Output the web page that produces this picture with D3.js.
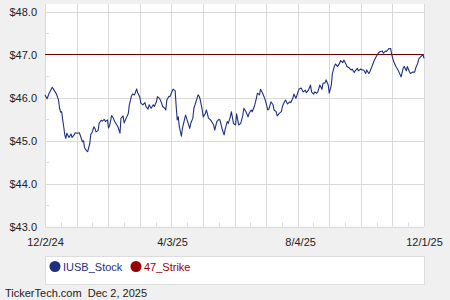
<!DOCTYPE html>
<html>
<head>
<meta charset="utf-8">
<script src="https://cdn.jsdelivr.net/npm/d3@7"></script>
<style>
    body { margin: 0; background: #f0f0f0; }
    svg { display: block; font-family: Arial, "Liberation Sans", sans-serif; }
</style>
</head>
<body>
<div id="chart"></div>
<script>
// closing prices, one entry per vertex of the line
const tradeDates = [
    "12/2/24","12/4/24","12/6/24","12/9/24","12/11/24","12/13/24","12/15/24","12/16/24","12/17/24","12/18/24",
    "12/19/24","12/20/24","12/21/24","12/22/24","12/23/24","12/25/24","12/27/24","12/28/24","12/30/24","12/31/24",
    "1/2/25","1/4/25","1/5/25","1/7/25","1/8/25","1/9/25","1/11/25","1/12/25","1/14/25","1/15/25",
    "1/16/25","1/18/25","1/19/25","1/20/25","1/22/25","1/23/25","1/25/25","1/26/25","1/28/25","1/29/25",
    "1/31/25","2/1/25","2/2/25","2/4/25","2/5/25","2/7/25","2/8/25","2/10/25","2/12/25","2/13/25",
    "2/15/25","2/16/25","2/18/25","2/20/25","2/21/25","2/23/25","2/24/25","2/26/25","2/28/25","3/1/25",
    "3/3/25","3/4/25","3/6/25","3/8/25","3/9/25","3/11/25","3/12/25","3/14/25","3/16/25","3/17/25",
    "3/19/25","3/20/25","3/22/25","3/24/25","3/25/25","3/27/25","3/28/25","3/29/25","3/31/25","4/1/25",
    "4/3/25","4/4/25","4/6/25","4/7/25","4/8/25","4/9/25","4/10/25","4/12/25","4/13/25","4/15/25",
    "4/16/25","4/18/25","4/20/25","4/21/25","4/23/25","4/24/25","4/26/25","4/28/25","4/29/25","4/30/25",
    "5/2/25","5/3/25","5/5/25","5/6/25","5/8/25","5/10/25","5/11/25","5/13/25","5/14/25","5/16/25",
    "5/18/25","5/19/25","5/21/25","5/23/25","5/24/25","5/26/25","5/27/25","5/29/25","5/30/25","6/1/25",
    "6/3/25","6/4/25","6/6/25","6/8/25","6/10/25","6/11/25","6/13/25","6/15/25","6/16/25","6/18/25",
    "6/19/25","6/21/25","6/23/25","6/24/25","6/26/25","6/27/25","6/29/25","7/1/25","7/2/25","7/4/25",
    "7/5/25","7/7/25","7/9/25","7/10/25","7/12/25","7/13/25","7/15/25","7/17/25","7/18/25","7/20/25",
    "7/21/25","7/23/25","7/25/25","7/26/25","7/28/25","7/29/25","7/31/25","8/2/25","8/3/25","8/5/25",
    "8/7/25","8/9/25","8/10/25","8/12/25","8/14/25","8/15/25","8/17/25","8/18/25","8/20/25","8/21/25",
    "8/23/25","8/25/25","8/26/25","8/28/25","8/29/25","8/31/25","9/1/25","9/3/25","9/4/25","9/6/25",
    "9/7/25","9/9/25","9/11/25","9/12/25","9/14/25","9/15/25","9/17/25","9/18/25","9/20/25","9/22/25",
    "9/23/25","9/25/25","9/26/25","9/28/25","9/29/25","10/1/25","10/3/25","10/4/25","10/6/25","10/7/25",
    "10/9/25","10/10/25","10/12/25","10/14/25","10/15/25","10/17/25","10/18/25","10/20/25","10/22/25","10/23/25",
    "10/25/25","10/26/25","10/28/25","10/30/25","10/31/25","11/1/25","11/2/25","11/4/25","11/6/25","11/7/25",
    "11/9/25","11/11/25","11/12/25","11/14/25","11/15/25","11/17/25","11/18/25","11/20/25","11/22/25","11/23/25",
    "11/25/25","11/26/25","11/28/25","11/30/25","12/1/25"
];

const closePrices = [
    46.06,45.97,46.10,46.24,46.16,46.08,45.94,45.75,45.66,45.67,
    45.48,45.32,45.13,45.05,45.17,45.07,45.15,45.07,45.13,45.18,
    45.17,45.18,45.11,44.97,44.99,44.83,44.76,44.74,44.93,45.15,
    45.17,45.32,45.28,45.20,45.23,45.40,45.47,45.45,45.49,45.44,
    45.48,45.29,45.34,45.58,45.55,45.44,45.40,45.32,45.17,45.52,
    45.57,45.41,45.52,45.63,45.83,46.03,46.08,46.06,46.20,46.11,
    46.02,45.87,45.83,45.88,45.79,45.73,45.83,45.75,45.83,45.79,
    45.90,46.02,45.98,45.87,45.79,45.75,45.71,45.94,46.03,46.02,
    46.14,46.19,46.16,45.79,45.48,45.55,45.32,45.10,45.28,45.49,
    45.59,45.44,45.28,45.40,45.52,45.75,45.90,46.06,46.03,45.96,
    45.71,45.55,45.63,45.71,45.52,45.48,45.44,45.36,45.24,45.44,
    45.49,45.48,45.28,45.13,45.26,45.44,45.40,45.55,45.67,45.40,
    45.36,45.62,45.36,45.40,45.59,45.75,45.67,45.55,45.63,45.71,
    45.67,45.79,45.98,46.10,46.06,46.19,46.10,45.98,45.90,45.71,
    45.73,45.90,45.83,45.71,45.67,45.57,45.63,45.67,45.79,45.90,
    45.94,45.85,45.90,45.88,45.98,46.08,45.98,46.13,46.20,46.22,
    46.13,46.17,46.11,46.17,46.29,46.13,46.08,46.13,46.10,46.13,
    46.29,46.19,46.33,46.34,46.41,46.29,46.10,46.29,46.56,46.73,
    46.78,46.72,46.80,46.86,46.81,46.87,46.78,46.72,46.69,46.64,
    46.66,46.58,46.62,46.68,46.62,46.66,46.64,46.64,46.56,46.64,
    46.56,46.60,46.72,46.85,46.90,46.99,47.03,47.07,47.08,47.03,
    47.08,47.07,47.13,47.14,47.00,46.91,46.83,46.72,46.64,46.59,
    46.48,46.68,46.72,46.62,46.72,46.60,46.56,46.59,46.59,46.68,
    46.80,46.90,46.95,47.00,46.91
];

const strikePrice = 47;
const yTickValues = [43, 44, 45, 46, 47, 48];
const xTickLabels = ["12/2/24", "4/3/25", "8/4/25", "12/1/25"];
const seriesNames = ["IUSB_Stock", "47_Strike"];
const footerText = "TickerTech.com  Dec 2, 2025";

const width = 450;
const height = 300;
const plot = { left: 45, right: 424, top: 4, bottom: 226.5 };
const stockColor = '#1f2f80';
const strikeColor = '#990000';
const gridColor = '#d9d9d9';

const parseDate = d3.timeParse('%m/%d/%y');
const data = tradeDates.map((d, i) => ({ date: parseDate(d), close: closePrices[i] }));

const svg = d3.select('#chart').append('svg')
    .attr('width', width)
    .attr('height', height);

svg.append('rect')
    .attr('width', width)
    .attr('height', height)
    .attr('fill', '#f0f0f0');

const startDate = parseDate(xTickLabels[0]);
const endDate = parseDate(xTickLabels[xTickLabels.length - 1]);

const xScale = d3.scaleTime()
    .domain([startDate, endDate])
    .range([plot.left, plot.right]);

const yScale = d3.scaleLinear()
    .domain([43, 48])
    .range([plot.bottom, 11.5]);

svg.append('rect')
    .attr('x', plot.left)
    .attr('y', plot.top)
    .attr('width', plot.right - plot.left)
    .attr('height', plot.bottom - plot.top)
    .attr('fill', '#fff');

// gridlines: 12 even steps across the year, minor ticks halfway between
const gridDates = d3.range(13).map(i => new Date(+startDate + i * (endDate - startDate) / 12));
const minorDates = d3.range(12).map(i => new Date(+startDate + (i + 0.5) * (endDate - startDate) / 12));

svg.append('g').selectAll('line')
    .data(gridDates)
    .join('line')
    .attr('x1', d => Math.round(xScale(d)) + 0.5)
    .attr('x2', d => Math.round(xScale(d)) + 0.5)
    .attr('y1', plot.top)
    .attr('y2', plot.bottom)
    .attr('stroke', gridColor);

svg.append('g').selectAll('line')
    .data(minorDates)
    .join('line')
    .attr('x1', d => Math.round(xScale(d)) + 0.5)
    .attr('x2', d => Math.round(xScale(d)) + 0.5)
    .attr('y1', plot.bottom - 4)
    .attr('y2', plot.bottom)
    .attr('stroke', gridColor);

svg.append('g').selectAll('line')
    .data(yTickValues)
    .join('line')
    .attr('x1', plot.left)
    .attr('x2', plot.right)
    .attr('y1', d => Math.round(yScale(d)) + 0.5)
    .attr('y2', d => Math.round(yScale(d)) + 0.5)
    .attr('stroke', gridColor);

svg.append('g').selectAll('line')
    .data(yTickValues.slice(0, -1).map(d => d + 0.5))
    .join('line')
    .attr('x1', plot.left)
    .attr('x2', plot.left + 4)
    .attr('y1', d => Math.round(yScale(d)) + 0.5)
    .attr('y2', d => Math.round(yScale(d)) + 0.5)
    .attr('stroke', gridColor);

// axis labels
const yAxis = svg.append('g')
    .attr('transform', `translate(${plot.left},0)`)
    .call(d3.axisLeft(yScale)
        .tickValues(yTickValues)
        .tickFormat(d => '$' + d.toFixed(1))
        .tickSize(0)
        .tickPadding(8));
yAxis.select('.domain').remove();
yAxis.selectAll('text')
    .attr('font-size', 11)
    .attr('font-family', 'Arial, "Liberation Sans", sans-serif')
    .attr('fill', '#222');

const xAxis = svg.append('g')
    .attr('transform', `translate(0,${plot.bottom})`)
    .call(d3.axisBottom(xScale)
        .tickValues(xTickLabels.map(parseDate))
        .tickFormat((d, i) => xTickLabels[i])
        .tickSize(0)
        .tickPadding(12));
xAxis.select('.domain').remove();
xAxis.selectAll('text')
    .attr('font-size', 11)
    .attr('font-family', 'Arial, "Liberation Sans", sans-serif')
    .attr('fill', '#222');

// strike and price lines
svg.append('line')
    .attr('x1', plot.left)
    .attr('x2', plot.right)
    .attr('y1', Math.round(yScale(strikePrice)) + 0.5)
    .attr('y2', Math.round(yScale(strikePrice)) + 0.5)
    .attr('stroke', '#6e0000')
    .attr('stroke-width', 1.2);

const line = d3.line()
    .x(d => xScale(d.date))
    .y(d => yScale(d.close));

svg.append('path')
    .datum(data)
    .attr('d', line)
    .attr('fill', 'none')
    .attr('stroke', stockColor)
    .attr('stroke-width', 1.1)
    .attr('stroke-linejoin', 'round');

// legend
svg.append('rect')
    .attr('x', plot.left + 0.5)
    .attr('y', 256.5)
    .attr('width', plot.right - plot.left)
    .attr('height', 28)
    .attr('fill', '#fff')
    .attr('stroke', '#dcdcdc');

const legendX = [55, 136];
const legendColors = [stockColor, strikeColor];

const legendItems = svg.append('g').selectAll('g')
    .data(seriesNames)
    .join('g')
    .attr('transform', (d, i) => `translate(${legendX[i]},266.5)`);

legendItems.append('circle')
    .attr('r', 5.5)
    .attr('fill', (d, i) => legendColors[i]);

legendItems.append('text')
    .attr('x', 8)
    .attr('y', 4.5)
    .attr('font-size', 11)
    .attr('fill', (d, i) => legendColors[i])
    .text(d => d);

svg.append('text')
    .attr('x', 5)
    .attr('y', 297)
    .attr('font-size', 11)
    .attr('fill', '#222')
    .style('white-space', 'pre')
    .text(footerText);
</script>
</body>
</html>
